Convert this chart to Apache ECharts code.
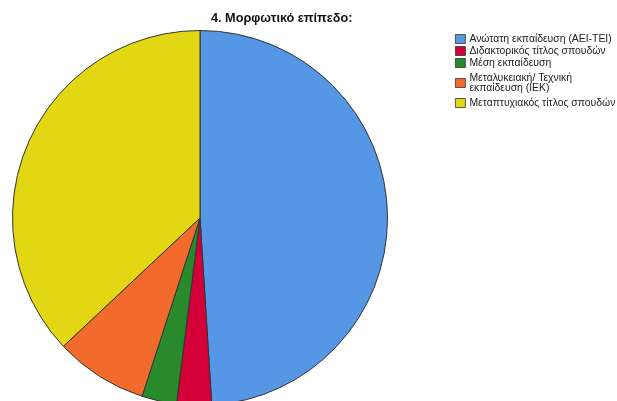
<!DOCTYPE html>
<html>
<head>
<meta charset="utf-8">
<script src="https://cdn.jsdelivr.net/npm/echarts@6/dist/echarts.min.js"></script>
<style>
  html, body { margin: 0; padding: 0; background: #fff; }
  #chart { width: 617px; height: 401px; }
</style>
</head>
<body>
<div id="chart"></div>
<script>
// Education level distribution
const chartTitle = '4. Μορφωτικό επίπεδο:';
const categories = [
  'Ανώτατη εκπαίδευση (ΑΕΙ-ΤΕΙ)',
  'Διδακτορικός τίτλος σπουδών',
  'Μέση εκπαίδευση',
  'Μεταλυκειακή/ Τεχνική\nεκπαίδευση (ΙΕΚ)',
  'Μεταπτυχιακός τίτλος σπουδών'
];
const values = [49, 3, 3, 8, 37];
const colors = ['#5596E5', '#D5003A', '#288A2A', '#F26B2C', '#E2D712'];

// vertical centre of each legend row (the fourth entry spans two lines)
const legendRowCenters = [39, 51, 63, 83, 103];

const chart = echarts.init(document.getElementById('chart'), null, { renderer: 'canvas' });

const legends = categories.map((name, i) => ({
  data: [name],
  orient: 'vertical',
  left: 455,
  top: legendRowCenters[i] - (name.includes('\n') ? 10 : 5),
  itemWidth: 10,
  itemHeight: 9,
  itemGap: 0,
  padding: 0,
  icon: 'rect',
  itemStyle: { borderColor: '#333', borderWidth: 0.8 },
  textStyle: {
    fontFamily: 'Liberation Sans, Arial, sans-serif',
    fontSize: 10.4,
    lineHeight: 10,
    color: '#222',
    padding: [0, 0, 0, -1]
  }
}));

chart.setOption({
  animation: false,
  color: colors,
  title: {
    text: chartTitle,
    left: 211,
    top: 12,
    padding: 0,
    textStyle: {
      fontFamily: 'Liberation Sans, Arial, sans-serif',
      fontSize: 12.7,
      fontWeight: 'bold',
      color: '#111'
    }
  },
  legend: legends,
  series: [{
    type: 'pie',
    center: [200, 218],
    radius: [0, 187.5],
    startAngle: 90,
    clockwise: true,
    label: { show: false },
    labelLine: { show: false },
    emphasis: { disabled: true },
    itemStyle: { borderColor: '#333', borderWidth: 1 },
    data: categories.map((name, i) => ({ name, value: values[i] }))
  }]
});
</script>
</body>
</html>
